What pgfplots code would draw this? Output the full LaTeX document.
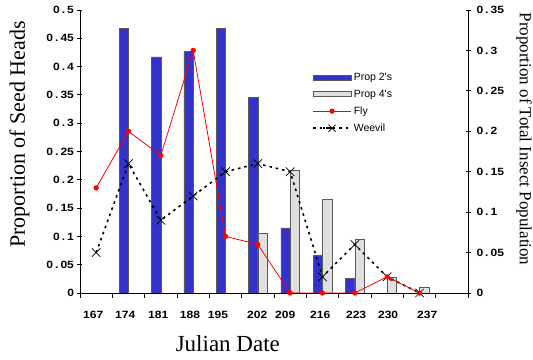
\documentclass[border=0pt]{standalone}
\usepackage{fontspec}
\setmainfont{Liberation Serif}
\newfontfamily\arial{Liberation Sans}
\newfontfamily\arialw[FakeStretch=1.15]{Liberation Sans}
\usepackage{pgfplots}
\pgfplotsset{compat=1.18}
\definecolor{barblue}{RGB}{51,51,204}
\definecolor{bargray}{RGB}{224,224,224}
\pgfplotsset{
  barlegend/.style={legend image code/.code={\draw[##1] (0pt,-2.5pt) rectangle (38pt,2.5pt);}},
  linelegend/.style={legend image code/.code={\draw[##1, mark=none] (0pt,0pt) -- (38pt,0pt); \draw[##1] plot coordinates {(19pt,0pt)};}},
  common/.style={
    scale only axis, width=388pt, height=283pt,
    xmin=-0.5, xmax=11.5,
    ymin=0,
    tick align=center, major tick length=5pt,
    axis line style={black, line width=0.8pt},
    every tick/.style={black, line width=0.8pt},
    /pgf/number format/assume math mode=true,
    ticklabel style={font=\arialw\bfseries\fontsize{10.5}{13}\selectfont},
    scaled y ticks=false,
    yticklabel style={/pgf/number format/fixed, /pgf/number format/precision=2,
      /pgf/number format/set decimal separator={\kern2pt.\kern2pt}},
  }
}
\begin{document}
\begin{tikzpicture}
\begin{axis}[common,
  ymax=0.5, ytick={0,0.05,...,0.5},
  axis x line*=bottom, axis y line*=left,
  xtick={-0.5,0.5,...,11.5}, xticklabels={},
  extra x ticks={-0.09,0.9,1.92,2.9,3.77,4.98,5.85,6.93,8.04,9.03,10.24},
  extra x tick labels={167,174,181,188,195,202,209,216,223,230,237},
  extra x tick style={major tick length=0pt, xticklabel style={yshift=-15pt}},
  ybar=0pt, bar width=9.3pt,
  xlabel={Julian Date}, ylabel={Proportion of Seed Heads},
  every axis x label/.style={at={(axis description cs:0.381,-0.2085)}, anchor=base, font=\fontsize{23}{27}\selectfont},
  every axis y label/.style={at={(axis description cs:-0.142,0.56)}, rotate=90, anchor=base, font=\fontsize{22}{26}\selectfont},
  barlegend,
  legend style={at={(axis description cs:0.598,0.785)}, anchor=north west, draw=none, fill=none,
    font=\arial\fontsize{10.5}{12}\selectfont, row sep=4pt, cells={anchor=west}, inner sep=0pt},
]
\addplot[fill=barblue, draw=black!65, line width=0.5pt] coordinates {(1,0.468) (2,0.417) (3,0.427) (4,0.468) (5,0.346) (6,0.115) (7,0.066) (8,0.026)};
\addlegendentry{Prop 2's}
\addplot[fill=bargray, draw=black!65, line width=0.5pt] coordinates {(5,0.106) (6,0.216) (7,0.166) (8,0.095) (9,0.028) (10,0.011)};
\addlegendentry{Prop 4's}
\addlegendimage{red, line width=0.8pt, mark=*, mark size=2.2pt, mark options={fill=red, solid}, linelegend}
\addlegendentry{Fly}
\addlegendimage{black, line width=1.6pt, dash pattern=on 2.5pt off 4pt, mark=x, mark size=5pt, mark options={solid, line width=0.7pt}, linelegend}
\addlegendentry{Weevil}
\end{axis}
\begin{axis}[common,
  ymax=0.35, ytick={0,0.05,...,0.35},
  axis y line*=right, axis x line=none,
  yticklabel style={xshift=2.5pt},
  ylabel={Proportion of Total Insect Population},
  every axis y label/.style={at={(axis description cs:1.134,0.544)}, rotate=-90, anchor=base, font=\fontsize{17}{20}\selectfont},
]
\addplot[black, line width=1.6pt, dash pattern=on 2.5pt off 4pt, mark=x, mark size=6pt, mark options={solid, line width=0.7pt}]
  coordinates {(0,0.05) (1,0.16) (2,0.09) (3,0.12) (4,0.15) (5,0.16) (6,0.15) (7,0.02) (8,0.06) (9,0.02) (10,0)};
\addplot[red, line width=0.8pt, mark=*, mark size=2.2pt, mark options={fill=red}]
  coordinates {(0,0.13) (1,0.2) (2,0.17) (3,0.3) (4,0.07) (5,0.06) (6,0) (7,0) (8,0) (9,0.02) (10,0)};
\end{axis}
\pgfresetboundingbox
\path ([shift={(-80pt,-67pt)}]current axis.south west) rectangle ([shift={(65pt,10pt)}]current axis.north east);
\end{tikzpicture}
\end{document}
